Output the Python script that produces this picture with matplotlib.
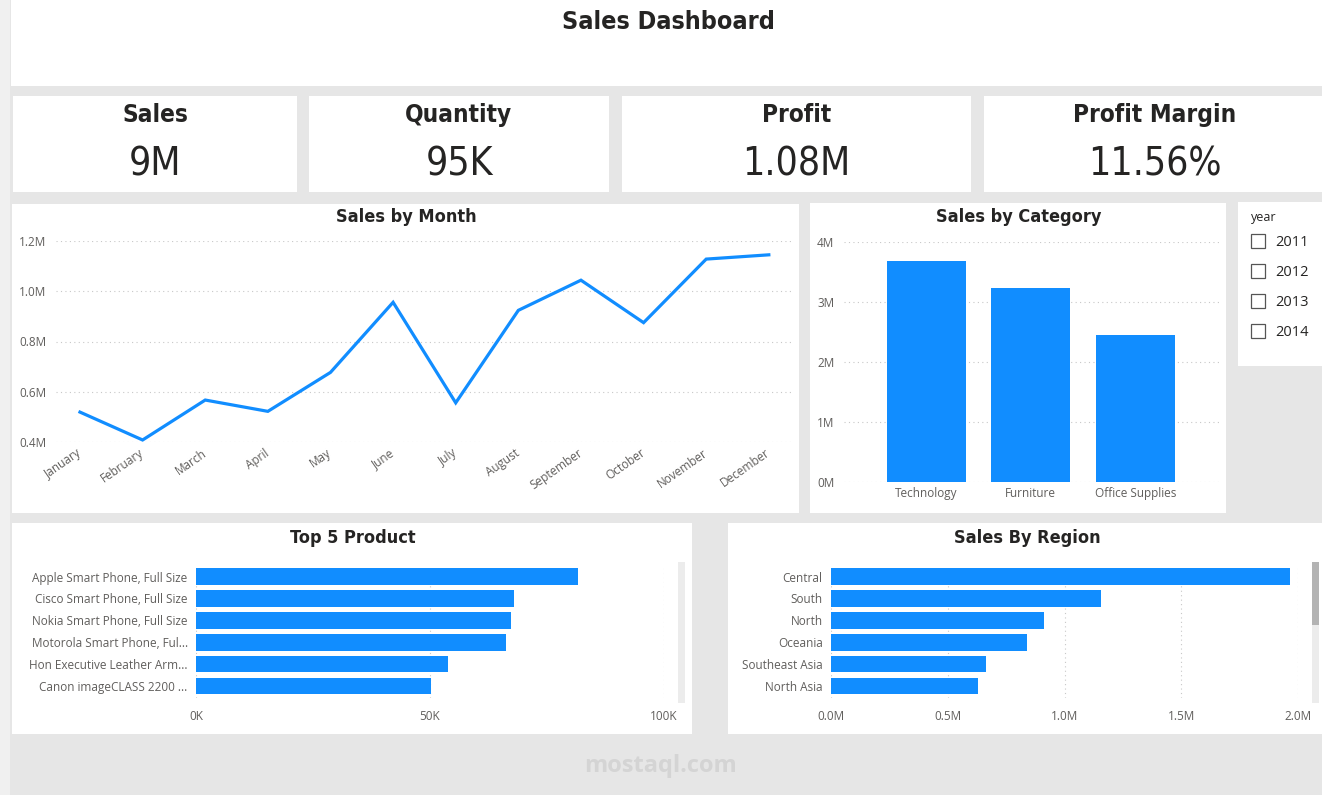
import matplotlib
matplotlib.use("Agg")
import matplotlib.pyplot as plt
from matplotlib.patches import Rectangle
from matplotlib.ticker import FuncFormatter, FixedLocator

# ---- data ----
kpi_labels = ["Sales", "Quantity", "Profit", "Profit Margin"]
kpi_values = ["9M", "95K", "1.08M", "11.56%"]

months = ["January", "February", "March", "April", "May", "June", "July",
          "August", "September", "October", "November", "December"]
month_sales = [0.519e6, 0.408e6, 0.567e6, 0.522e6, 0.677e6, 0.956e6, 0.556e6,
               0.924e6, 1.044e6, 0.875e6, 1.128e6, 1.145e6]

categories = ["Technology", "Furniture", "Office Supplies"]
category_sales = [3.68e6, 3.23e6, 2.44e6]

years = ["2011", "2012", "2013", "2014"]

products = ["Apple Smart Phone, Full Size", "Cisco Smart Phone, Full Size",
            "Nokia Smart Phone, Full Size", "Motorola Smart Phone, Ful...",
            "Hon Executive Leather Arm...", "Canon imageCLASS 2200 ..."]
product_sales = [81.7e3, 67.9e3, 67.3e3, 66.3e3, 53.9e3, 50.3e3]

regions = ["Central", "South", "North", "Oceania", "Southeast Asia", "North Asia"]
region_sales = [1.964e6, 1.155e6, 0.912e6, 0.840e6, 0.664e6, 0.628e6]

W, H = 1322, 795
BLUE = "#118DFF"
GREY_TXT = "#605e5c"
DARK = "#252423"
TITLE_FONT = ["DejaVu Sans"]
BODY_FONT = ["Open Sans", "DejaVu Sans"]

fig = plt.figure(figsize=(W / 100, H / 100), dpi=100)
fig.patch.set_facecolor("#e6e6e6")


def panel(x0, y0, x1, y1, color="white"):
    fig.add_artist(Rectangle((x0 / W, 1 - y1 / H), (x1 - x0) / W, (y1 - y0) / H,
                             transform=fig.transFigure, facecolor=color,
                             edgecolor="none", zorder=0))


def ftext(x, y, s, **kw):
    fig.text(x / W, 1 - y / H, s, **kw)


def title(x, y, s, size=13):
    ftext(x, y, s, ha="center", va="center", fontsize=size, fontweight="bold",
          family=TITLE_FONT, fontstretch="condensed", color=DARK)


def px_axes(x0, y0, x1, y1):
    ax = fig.add_axes([x0 / W, 1 - y1 / H, (x1 - x0) / W, (y1 - y0) / H])
    ax.set_facecolor("none")
    for s in ax.spines.values():
        s.set_visible(False)
    ax.tick_params(length=0, colors=GREY_TXT, labelsize=8.5)
    return ax


def style_labels(ax):
    for lab in ax.get_xticklabels() + ax.get_yticklabels():
        lab.set_family(BODY_FONT)
        lab.set_color(GREY_TXT)


grid_kw = dict(color="#c8c8c8", linestyle=(0, (1, 3)), linewidth=0.8)

# background pieces
panel(0, 0, 10, H, "#f0f0f0")
panel(11, 0, W, 86)
title(668, 22, "Sales Dashboard", size=18)

# KPI cards
cards = [(13, 297), (309, 609), (622, 971), (984, W)]
for (x0, x1), lab, val in zip(cards, kpi_labels, kpi_values):
    panel(x0, 96, x1, 192)
    cx = (x0 + x1) / 2 if x1 < W else 1155
    title(cx, 115, lab, size=17.5)
    ftext(cx, 165, val, ha="center", va="center", fontsize=28,
          family=TITLE_FONT, fontstretch="condensed", color=DARK)

# ---- Sales by Month ----
panel(12, 204, 799, 513)
title(406, 217, "Sales by Month")
ax = px_axes(56, 241, 792, 442)
x = list(range(len(months)))
ax.plot(x, month_sales, color=BLUE, linewidth=2.3, solid_joinstyle="miter", clip_on=False)
ax.set_ylim(0.4e6, 1.2e6)
ax.set_xlim(-0.383, 11.37)
ax.yaxis.set_major_locator(FixedLocator([0.4e6, 0.6e6, 0.8e6, 1.0e6, 1.2e6]))
ax.yaxis.set_major_formatter(FuncFormatter(lambda v, p: f"{v / 1e6:.1f}M"))
ax.yaxis.grid(True, **grid_kw)
ax.set_xticks(x)
ax.set_xticklabels(months, rotation=35, ha="right", va="center", rotation_mode="anchor")
ax.tick_params(axis="x", pad=7)
ax.tick_params(axis="y", pad=7)
style_labels(ax)

# ---- Sales by Category ----
panel(810, 203, 1226, 513)
title(1019, 217, "Sales by Category")
ax = px_axes(844, 241.7, 1221, 481.7)
ax.bar(range(len(categories)), category_sales, width=0.756, color=BLUE, zorder=2)
ax.set_xlim(-0.785, 2.82)
ax.set_ylim(0, 4e6)
ax.yaxis.set_major_locator(FixedLocator([0, 1e6, 2e6, 3e6, 4e6]))
ax.yaxis.set_major_formatter(FuncFormatter(lambda v, p: f"{v / 1e6:.0f}M"))
ax.yaxis.grid(True, **grid_kw)
ax.set_xticks(range(len(categories)))
ax.set_xticklabels(categories)
ax.tick_params(axis="x", pad=4)
ax.tick_params(axis="y", pad=7)
style_labels(ax)

# ---- year slicer ----
panel(1238, 202, W, 366)
ftext(1251, 217, "year", ha="left", va="center", fontsize=9, family=BODY_FONT,
      color=DARK)
for i, yr in enumerate(years):
    yc = 241 + i * 30
    fig.add_artist(Rectangle((1251 / W, 1 - (yc + 7) / H), 14 / W, 14 / H,
                             transform=fig.transFigure, facecolor="white",
                             edgecolor="#555555", linewidth=0.9))
    ftext(1275, yc + 1.5, yr, ha="left", va="center", fontsize=10.5,
          family=BODY_FONT, color=DARK)


def hbar_panel(x0, x1, name, title_x, labels, values, ax_x0, ax_x1, xmax, ticks, fmt):
    panel(x0, 523, x1, 734)
    title(title_x, 538, name)
    a = px_axes(ax_x0, 565, ax_x1, 698)
    a.barh(range(len(labels)), values, height=0.76, color=BLUE, zorder=2)
    a.set_ylim(5.55, -0.53)
    a.set_xlim(0, xmax)
    a.xaxis.set_major_locator(FixedLocator(ticks))
    a.xaxis.set_major_formatter(FuncFormatter(fmt))
    a.xaxis.grid(True, **grid_kw)
    a.set_yticks(range(len(labels)))
    a.set_yticklabels(labels)
    a.tick_params(axis="y", pad=6, labelsize=8.5)
    a.tick_params(axis="x", pad=9, labelsize=8.5)
    style_labels(a)
    return a


hbar_panel(12, 692, "Top 5 Product", 353, products, product_sales, 196, 664,
           100e3, [0, 50e3, 100e3], lambda v, p: f"{v / 1e3:.0f}K")
# scrollbar track
panel(678, 562, 685, 703, "#ececec")

hbar_panel(728, W, "Sales By Region", 1027, regions, region_sales, 831, 1298,
           2.0e6, [0, 0.5e6, 1.0e6, 1.5e6, 2.0e6], lambda v, p: f"{v / 1e6:.1f}M")
panel(1312, 562, 1319, 703, "#ececec")
panel(1312, 562, 1319, 625, "#b3b3b3")

# watermark
ftext(660, 766, "mostaql.com", ha="center", va="center", fontsize=17,
      family=BODY_FONT, color="#d4d4d4", fontweight="bold")

fig.savefig("out.png", dpi=100, facecolor=fig.get_facecolor())
